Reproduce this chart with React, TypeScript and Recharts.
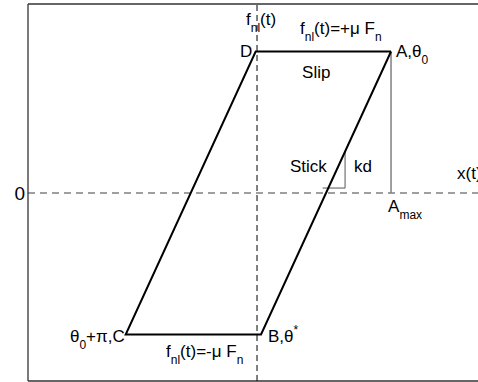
import React from 'react'
import { ComposedChart, Line, XAxis, YAxis, ReferenceLine, ReferenceDot } from 'recharts'

// x in units of A_max, y in units of mu*F_n
const loopX = [1, 0.03, -0.98, -0.01, 1] // A -> B -> C -> D -> A
const loopY = [1, -1, -1, 1, 1]
const amaxX = [1, 1]
const amaxY = [1, 0]
const stickX = [0.49, 0.657, 0.657]
const stickY = [0.035, 0.035, 0.297]
const yTicks = [0]

const xDomain: [number, number] = [-1.709, 1.649]
const yDomain: [number, number] = [-1.329, 1.336]

const toPoints = (xs: number[], ys: number[]) => xs.map((x, i) => ({ x, y: ys[i] }))

const loop = toPoints(loopX, loopY)
const amax = toPoints(amaxX, amaxY)
const stick = toPoints(stickX, stickY)

type Part = [string, '' | 'sub' | 'sup']

// annotations: anchor (left / baseline) in data units
const labels: { x: number; y: number; parts: Part[] }[] = [
  { x: -0.082, y: 1.187, parts: [['f', ''], ['nl', 'sub'], ['(t)', '']] },
  { x: 0.321, y: 1.124, parts: [['f', ''], ['nl', 'sub'], ['(t)=+\u03bc F', ''], ['n', 'sub']] },
  { x: -0.127, y: 0.961, parts: [['D', '']] },
  { x: 1.037, y: 0.961, parts: [['A,\u03b8', ''], ['0', 'sub']] },
  { x: 0.336, y: 0.813, parts: [['Slip', '']] },
  { x: 0.246, y: 0.148, parts: [['Stick', '']] },
  { x: 0.724, y: 0.148, parts: [['kd', '']] },
  { x: 1.493, y: 0.099, parts: [['x(t)', '']] },
  { x: 0.978, y: -0.134, parts: [['A', ''], ['max', 'sub']] },
  { x: -1.396, y: -1.053, parts: [['\u03b8', ''], ['0', 'sub'], ['+\u03c0,C', '']] },
  { x: 0.082, y: -1.053, parts: [['B,\u03b8', ''], ['*', 'sup']] },
  { x: -0.679, y: -1.159, parts: [['f', ''], ['nl', 'sub'], ['(t)=-\u03bc F', ''], ['n', 'sub']] },
]

const FONT = '"Liberation Sans", Arial, sans-serif'
const BORDER = '#333'

function RichText(props: any) {
  const { viewBox, parts } = props
  let shift = 0
  return (
    <text x={viewBox.x} y={viewBox.y} fontFamily={FONT} fontSize={17} fill="#000">
      {parts.map(([t, k]: Part, i: number) => {
        const target = k === 'sub' ? 7 : k === 'sup' ? -8 : 0
        const dy = target - shift
        shift = target
        return (
          <tspan key={i} dy={dy} fontSize={k ? 12 : 17}>
            {t}
          </tspan>
        )
      })}
    </text>
  )
}

export default function App() {
  return (
    <div style={{ position: 'absolute', left: 0, top: 0 }}>
      <ComposedChart width={478} height={382} margin={{ top: 4, right: 0, bottom: 1, left: 0 }}>
        <XAxis
          dataKey="x"
          type="number"
          domain={xDomain}
          allowDataOverflow
          tick={false}
          tickLine={false}
          axisLine={false}
          height={0}
        />
        <YAxis
          dataKey="y"
          type="number"
          domain={yDomain}
          allowDataOverflow
          ticks={yTicks}
          width={28}
          tickSize={3}
          tickMargin={0}
          tickLine={false}
          tick={{ fontSize: 19, fill: '#000', fontFamily: FONT }}
          axisLine={{ stroke: BORDER, strokeWidth: 1.3 }}
        />
        {/* top and bottom edges of the frame */}
        <ReferenceLine y={yDomain[1]} stroke={BORDER} strokeWidth={1.3} ifOverflow="visible" />
        <ReferenceLine y={yDomain[0]} stroke={BORDER} strokeWidth={1.3} ifOverflow="visible" />
        <ReferenceLine x={0} stroke="#000" strokeWidth={1} strokeDasharray="6 4" />
        <ReferenceLine y={0} stroke="#808080" strokeWidth={1.5} strokeDasharray="7 5" />
        <Line
          data={amax}
          dataKey="y"
          type="linear"
          stroke="#808080"
          strokeWidth={1.5}
          dot={false}
          activeDot={false}
          isAnimationActive={false}
        />
        <Line
          data={stick}
          dataKey="y"
          type="linear"
          stroke="#555"
          strokeWidth={1}
          dot={false}
          activeDot={false}
          isAnimationActive={false}
        />
        <Line
          data={loop}
          dataKey="y"
          type="linear"
          stroke="#000"
          strokeWidth={2}
          dot={false}
          activeDot={false}
          isAnimationActive={false}
        />
        {labels.map((l, i) => (
          <ReferenceDot
            key={i}
            x={l.x}
            y={l.y}
            r={0}
            fill="none"
            stroke="none"
            label={<RichText parts={l.parts} />}
          />
        ))}
      </ComposedChart>
    </div>
  )
}
